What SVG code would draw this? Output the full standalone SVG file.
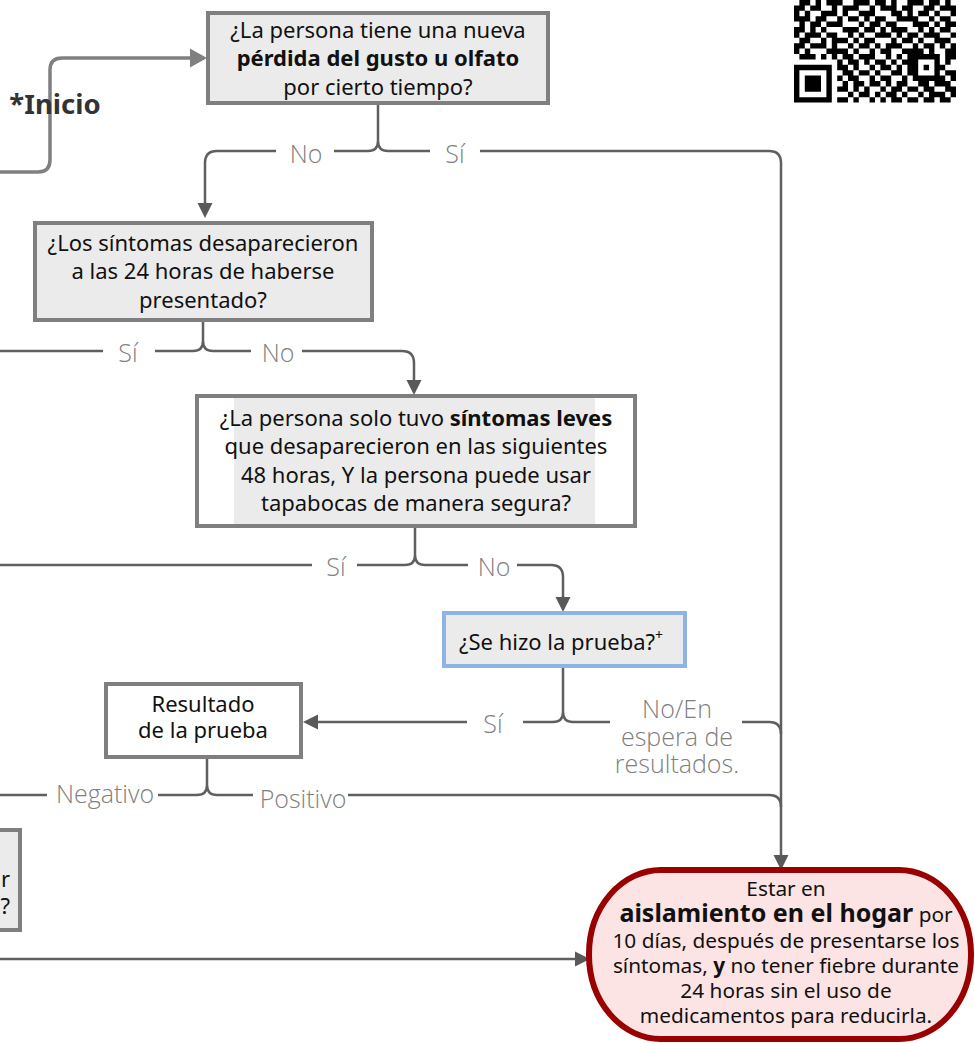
<svg xmlns="http://www.w3.org/2000/svg" width="975" height="1043" viewBox="0 0 975 1043">
<style>
.t{font-family:"Noto Sans","Open Sans","Liberation Sans",sans-serif;font-size:22px;fill:#111;text-anchor:middle}
.f{font-size:20.8px}
.b{font-weight:bold}
.lbl{font-family:"Open Sans","Noto Sans","Liberation Sans",sans-serif;font-weight:300;font-size:25px;fill:#808080;text-anchor:middle}
.c{fill:none;stroke:#5f5f5f;stroke-width:2.5}
.gbox{fill:#ebebeb;stroke:#7f7f7f;stroke-width:4}
.wbox{fill:#ffffff;stroke:#7f7f7f;stroke-width:4}
</style>
<defs>
<marker id="arr" markerUnits="userSpaceOnUse" markerWidth="16" markerHeight="16" refX="0" refY="8" orient="auto"><path d="M0,0.5 L15,8 L0,15.5 z" fill="#595959"/></marker>
<marker id="arr2" markerUnits="userSpaceOnUse" markerWidth="18" markerHeight="20" refX="0" refY="10" orient="auto"><path d="M0,0.5 L17,10 L0,19.5 z" fill="#808080"/></marker>
</defs>
<rect width="975" height="1043" fill="#ffffff"/>

<g id="qr" transform="translate(794,0) scale(5.4)" fill="#000">
<path d="M1 0h2v1h-2zM4 0h1v1h-1zM6 0h3v1h-3zM11 0h3v1h-3zM15 0h2v1h-2zM18 0h1v1h-1zM21 0h3v1h-3zM25 0h2v1h-2zM28 0h1v1h-1z
M0 1h2v1h-2zM3 1h2v1h-2zM7 1h1v1h-1zM9 1h3v1h-3zM14 1h1v1h-1zM16 1h3v1h-3zM20 1h2v1h-2zM24 1h2v1h-2zM27 1h3v1h-3z
M0 2h1v1h-1zM2 2h1v1h-1zM5 2h3v1h-3zM9 2h1v1h-1zM12 2h3v1h-3zM18 2h2v1h-2zM21 2h1v1h-1zM23 2h2v1h-2zM26 2h1v1h-1zM29 2h1v1h-1z
M0 3h3v1h-3zM4 3h2v1h-2zM8 3h1v1h-1zM10 3h2v1h-2zM13 3h1v1h-1zM15 3h2v1h-2zM19 3h4v1h-4zM25 3h1v1h-1zM27 3h2v1h-2z
M1 4h1v1h-1zM3 4h2v1h-2zM6 4h3v1h-3zM12 4h1v1h-1zM14 4h2v1h-2zM17 4h2v1h-2zM22 4h3v1h-3zM26 4h1v1h-1zM28 4h2v1h-2z
M0 5h2v1h-2zM3 5h1v1h-1zM5 5h1v1h-1zM9 5h3v1h-3zM13 5h2v1h-2zM16 5h1v1h-1zM18 5h3v1h-3zM23 5h1v1h-1zM25 5h1v1h-1zM27 5h2v1h-2z
M0 6h1v1h-1zM2 6h3v1h-3zM6 6h2v1h-2zM10 6h1v1h-1zM12 6h1v1h-1zM15 6h3v1h-3zM19 6h1v1h-1zM21 6h2v1h-2zM24 6h3v1h-3zM29 6h1v1h-1z
M1 7h2v1h-2zM5 7h1v1h-1zM7 7h3v1h-3zM11 7h1v1h-1zM13 7h2v1h-2zM18 7h1v1h-1zM20 7h2v1h-2zM23 7h1v1h-1zM26 7h3v1h-3z
M0 8h2v1h-2zM3 8h3v1h-3zM7 8h1v1h-1zM10 8h1v1h-1zM12 8h2v1h-2zM15 8h1v1h-1zM17 8h3v1h-3zM22 8h1v1h-1zM24 8h2v1h-2zM27 8h1v1h-1zM29 8h1v1h-1z
M0 9h1v1h-1zM2 9h1v1h-1zM6 9h4v1h-4zM11 9h1v1h-1zM14 9h1v1h-1zM16 9h2v1h-2zM20 9h4v1h-4zM25 9h1v1h-1zM28 9h2v1h-2z
M1 10h3v1h-3zM5 10h1v1h-1zM7 10h1v1h-1zM9 10h2v1h-2zM12 10h3v1h-3zM17 10h1v1h-1zM19 10h1v1h-1zM21 10h6v1h-6zM28 10h2v1h-2z
M8 11h1v1h-1zM10 11h2v1h-2zM13 11h1v1h-1zM15 11h2v1h-2zM18 11h1v1h-1zM20 11h3v1h-3zM26 11h1v1h-1zM28 11h1v1h-1z
M0 12h7v1h-7zM8 12h2v1h-2zM11 12h1v1h-1zM14 12h1v1h-1zM16 12h2v1h-2zM19 12h1v1h-1zM21 12h2v1h-2zM24 12h1v1h-1zM26 12h2v1h-2z
M0 13h1v1h-1zM6 13h1v1h-1zM9 13h2v1h-2zM12 13h2v1h-2zM15 13h1v1h-1zM18 13h2v1h-2zM21 13h2v1h-2zM26 13h1v1h-1zM28 13h2v1h-2z
M0 14h1v1h-1zM2 14h3v1h-3zM6 14h1v1h-1zM8 14h1v1h-1zM10 14h2v1h-2zM14 14h1v1h-1zM16 14h2v1h-2zM20 14h1v1h-1zM22 14h6v1h-6zM29 14h1v1h-1z
M0 15h1v1h-1zM2 15h3v1h-3zM6 15h1v1h-1zM9 15h1v1h-1zM11 15h2v1h-2zM14 15h2v1h-2zM17 15h1v1h-1zM19 15h2v1h-2zM23 15h2v1h-2zM26 15h3v1h-3z
M0 16h1v1h-1zM2 16h3v1h-3zM6 16h1v1h-1zM8 16h2v1h-2zM11 16h1v1h-1zM13 16h1v1h-1zM16 16h1v1h-1zM18 16h2v1h-2zM21 16h2v1h-2zM24 16h2v1h-2zM28 16h2v1h-2z
M0 17h1v1h-1zM6 17h1v1h-1zM10 17h1v1h-1zM12 17h2v1h-2zM15 17h1v1h-1zM17 17h2v1h-2zM20 17h1v1h-1zM23 17h1v1h-1zM25 17h3v1h-3zM29 17h1v1h-1z
M0 18h7v1h-7zM8 18h2v1h-2zM11 18h1v1h-1zM14 18h1v1h-1zM16 18h1v1h-1zM18 18h2v1h-2zM21 18h2v1h-2zM24 18h2v1h-2zM27 18h2v1h-2z"/>
</g>

<g id="connectors">
<path d="M0,172 H38 Q50,172 50,160 V70 Q50,58 62,58 H190" fill="none" stroke="#808080" stroke-width="3.5" marker-end="url(#arr2)"/>
<path class="c" d="M378,103 V141 M378,141 Q378,151 368,151 H334 M378,141 Q378,151 388,151 H430"/>
<path class="c" d="M276,151 H217 Q205,151 205,163 V203" marker-end="url(#arr)"/>
<path class="c" d="M480,151 H769 Q781,151 781,163 V855" marker-end="url(#arr)"/>
<path class="c" d="M203,321 V341 M203,341 Q203,351 193,351 H155 M203,341 Q203,351 213,351 H251 M103,351 H0"/>
<path class="c" d="M302,351 H402 Q414,351 414,363 V380" marker-end="url(#arr)"/>
<path class="c" d="M415,527 V555 M415,555 Q415,565 405,565 H357 M415,555 Q415,565 425,565 H468 M312,565 H0"/>
<path class="c" d="M517,565 H551 Q563,565 563,577 V597" marker-end="url(#arr)"/>
<path class="c" d="M563,668 V712 M563,712 Q563,722 553,722 H523 M563,712 Q563,722 573,722 H610 M742,722 H769 Q781,722 781,734"/>
<path class="c" d="M467,722 H318" marker-end="url(#arr)"/>
<path class="c" d="M207,758 V785 M207,785 Q207,795 197,795 H158 M207,785 Q207,795 217,795 H253 M47,795 H0 M348,795 H769 Q781,795 781,807"/>
<path class="c" d="M0,959 H575" marker-end="url(#arr)"/>
<text x="55" y="114" font-family="Noto Sans, Open Sans, Liberation Sans, sans-serif" font-weight="bold" font-size="27.5" fill="#333" text-anchor="middle">*Inicio</text>
<text class="lbl" x="306" y="163">No</text>
<text class="lbl" x="455" y="163">Sí</text>
<text class="lbl" x="128" y="362">Sí</text>
<text class="lbl" x="278" y="362">No</text>
<text class="lbl" x="336" y="576">Sí</text>
<text class="lbl" x="494" y="576">No</text>
<text class="lbl" x="493" y="733">Sí</text>
<text class="lbl" x="677" y="718" font-size="23">No/En</text>
<text class="lbl" x="677" y="745.5" font-size="23">espera de</text>
<text class="lbl" x="677" y="773" font-size="23">resultados.</text>
<text class="lbl" x="105" y="803">Negativo</text>
<text class="lbl" x="303" y="808">Positivo</text>
</g>

<g id="n1">
<rect class="gbox" x="208" y="13" width="340" height="90"/>
<text class="t" x="378" y="38">¿La persona tiene una nueva</text>
<text class="t b" x="378" y="66">pérdida del gusto u olfato</text>
<text class="t" x="378" y="95">por cierto tiempo?</text>
</g>

<g id="n2">
<rect class="gbox" x="35" y="223" width="337" height="97"/>
<text class="t" x="203" y="251">¿Los síntomas desaparecieron</text>
<text class="t" x="203" y="279">a las 24 horas de haberse</text>
<text class="t" x="203" y="308">presentado?</text>
</g>

<g id="n3">
<rect class="wbox" x="197" y="396" width="438" height="130"/>
<rect x="234" y="398" width="361" height="126" fill="#ebebeb"/>
<text class="t" x="416" y="426">¿La persona solo tuvo <tspan class="b">síntomas leves</tspan></text>
<text class="t" x="416" y="454">que desaparecieron en las siguientes</text>
<text class="t" x="416" y="483">48 horas, Y la persona puede usar</text>
<text class="t" x="416" y="511">tapabocas de manera segura?</text>
</g>

<g id="n4">
<rect x="444" y="613" width="241" height="53" fill="#ebebeb" stroke="#8db4e2" stroke-width="4"/>
<text class="t" x="561" y="650">¿Se hizo la prueba?<tspan font-size="14" dy="-10">+</tspan></text>
</g>

<g id="n5">
<rect class="wbox" x="106" y="684" width="195" height="73"/>
<text class="t" x="203" y="712">Resultado</text>
<text class="t" x="203" y="738">de la prueba</text>
</g>

<g id="n6">
<rect class="gbox" x="-20" y="830" width="40" height="100"/>
<text class="t" x="10" y="887" style="text-anchor:end">r</text>
<text class="t" x="10" y="914" style="text-anchor:end">?</text>
</g>

<g id="n7">
<rect x="589" y="870" width="382" height="169" rx="72" ry="84" fill="#fce4e4" stroke="#990000" stroke-width="6"/>
<text class="t f" x="786" y="896">Estar en</text>
<text class="t f" x="786" y="922"><tspan class="b" font-size="25">aislamiento en el hogar</tspan> por</text>
<text class="t f" x="786" y="948">10 días, después de presentarse los</text>
<text class="t f" x="786" y="973">síntomas, <tspan class="b">y</tspan> no tener fiebre durante</text>
<text class="t f" x="786" y="998">24 horas sin el uso de</text>
<text class="t f" x="786" y="1023">medicamentos para reducirla.</text>
</g>
</svg>
